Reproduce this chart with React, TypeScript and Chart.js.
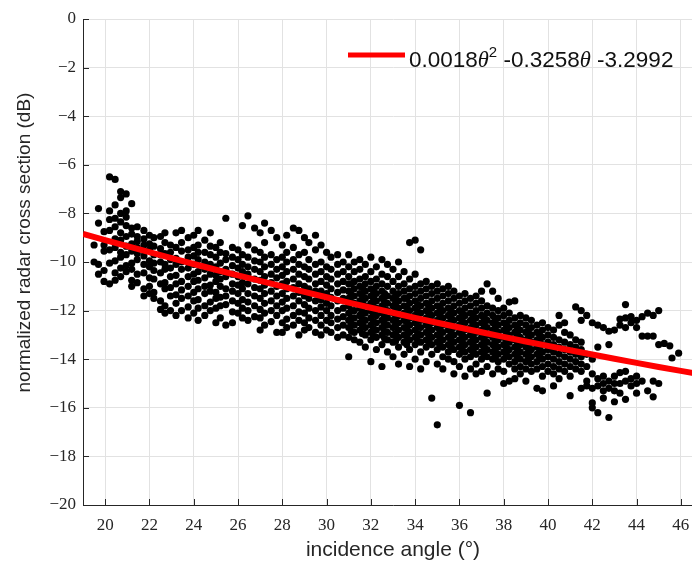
import { useEffect, useRef } from "react";
import { Chart, registerables } from "chart.js";

Chart.register(...registerables);

// Axis setup
const xTicks = [20, 22, 24, 26, 28, 30, 32, 34, 36, 38, 40, 42, 44, 46];
const yTicks = [0, -2, -4, -6, -8, -10, -12, -14, -16, -18, -20];
const xMin = 19;
const xMax = 47;
const yMin = -20;
const yMax = 0;

const xTitle = "incidence angle (°)";
const yTitle = "normalized radar cross section (dB)";

// Fitted curve
const fitAngle = [19, 21, 23, 25, 27, 29, 31, 33, 35, 37, 39, 41, 43, 45, 47];
const fitRcs = [-8.84, -9.35, -9.84, -10.32, -10.78, -11.23, -11.67, -12.09, -12.5, -12.89, -13.27, -13.63, -13.98, -14.32, -14.64];

// Legend text pieces: [text, style]
const legendParts: [string, string][] = [
  ["0.0018", "n"],
  ["θ", "i"],
  ["2", "s"],
  [" -0.3258", "n"],
  ["θ", "i"],
  [" -3.2992", "n"],
];

// Scatter measurements, columns: [angle, rcs values...]
const band19to22: number[][] = [
  [19.5, -9.3, -10.0],
  [19.7, -7.8, -8.4, -10.1, -10.5],
  [19.95, -8.75, -9.3, -9.55, -10.35, -10.8],
  [20.2, -6.5, -7.9, -8.25, -8.7, -9.5, -10.05, -10.9],
  [20.45, -6.6, -7.65, -8.2, -8.55, -9.05, -9.4, -9.95, -10.45, -10.75],
  [20.7, -7.1, -7.35, -8.0, -8.35, -8.8, -9.1, -9.6, -9.8, -10.25, -10.6],
  [20.95, -7.2, -7.9, -8.15, -8.5, -8.95, -9.35, -9.7, -10.15, -10.4],
  [21.2, -7.6, -8.6, -8.85, -9.25, -9.55, -10.05, -10.3, -10.75, -11.0],
  [21.45, -8.55, -8.95, -9.15, -9.4, -9.65, -9.9, -10.5, -10.85],
  [21.75, -8.7, -9.05, -9.3, -9.75, -10.1, -10.45, -11.1, -11.4],
];

const band22to25: number[][] = [
  [22.0, -8.9, -9.25, -9.5, -9.95, -10.2, -10.65, -11.0, -11.3],
  [22.2, -9.0, -9.35, -9.7, -10.05, -10.35, -10.7, -11.25, -11.5],
  [22.5, -8.95, -9.45, -9.7, -10.0, -10.45, -10.9, -11.6, -11.95],
  [22.7, -8.8, -9.2, -9.65, -10.1, -10.3, -10.85, -11.1, -11.8, -12.1],
  [22.95, -9.3, -9.6, -9.9, -10.25, -10.6, -11.05, -11.4, -12.0],
  [23.2, -8.8, -9.4, -9.85, -10.1, -10.55, -10.9, -11.35, -11.7, -12.2],
  [23.45, -8.7, -9.2, -9.55, -10.0, -10.3, -10.8, -11.15, -11.5, -12.0],
  [23.75, -9.0, -9.5, -9.8, -10.25, -10.6, -11.0, -11.4, -11.85, -12.3],
  [24.0, -8.9, -9.4, -9.75, -10.1, -10.5, -10.8, -11.25, -11.6, -12.1],
  [24.2, -8.7, -9.3, -9.6, -9.9, -10.4, -10.75, -11.1, -11.55, -11.9, -12.4],
  [24.5, -9.1, -9.6, -10.0, -10.3, -10.65, -11.0, -11.3, -11.8, -12.2],
  [24.75, -8.8, -9.35, -9.7, -10.1, -10.5, -10.95, -11.2, -11.65, -12.0],
];

const band25to28: number[][] = [
  [25.0, -9.4, -9.8, -10.2, -10.55, -10.8, -11.25, -11.5, -11.9, -12.5],
  [25.2, -9.2, -9.6, -10.05, -10.4, -10.7, -11.0, -11.45, -11.8, -12.3],
  [25.45, -8.2, -9.65, -9.9, -10.3, -10.6, -11.1, -11.4, -11.75, -12.6],
  [25.75, -9.4, -9.8, -10.15, -10.5, -10.9, -11.2, -11.6, -12.05, -12.5],
  [26.0, -9.5, -9.9, -10.25, -10.6, -10.95, -11.3, -11.7, -12.1],
  [26.2, -8.5, -9.7, -10.1, -10.4, -10.85, -11.1, -11.55, -11.9, -12.3],
  [26.45, -8.1, -9.3, -9.8, -10.2, -10.5, -10.9, -11.3, -11.65, -12.0, -12.4],
  [26.75, -8.6, -9.5, -9.95, -10.3, -10.7, -11.05, -11.4, -11.8, -12.25],
  [27.0, -8.8, -9.6, -10.0, -10.4, -10.75, -11.1, -11.5, -11.95, -12.3, -12.8],
  [27.2, -8.4, -9.2, -9.8, -10.2, -10.6, -10.95, -11.3, -11.7, -12.1, -12.6],
  [27.5, -8.7, -9.7, -10.1, -10.5, -10.85, -11.2, -11.6, -12.0, -12.45],
  [27.75, -9.0, -9.9, -10.3, -10.65, -11.0, -11.4, -11.8, -12.2, -12.9],
];

const band28to31: number[][] = [
  [28.0, -9.3, -9.8, -10.2, -10.55, -10.9, -11.3, -11.65, -12.0, -12.5, -12.9],
  [28.2, -8.9, -9.6, -10.0, -10.4, -10.8, -11.1, -11.5, -11.9, -12.35, -12.7],
  [28.5, -8.6, -9.4, -9.9, -10.3, -10.7, -11.05, -11.4, -11.8, -12.2, -12.6],
  [28.75, -8.7, -9.7, -10.1, -10.5, -10.9, -11.25, -11.6, -12.05, -12.4, -13.0],
  [29.0, -9.0, -9.6, -10.2, -10.6, -11.0, -11.4, -11.75, -12.1, -12.5, -12.8],
  [29.2, -9.2, -9.9, -10.3, -10.7, -11.1, -11.5, -11.9, -12.3, -12.7],
  [29.5, -8.9, -9.5, -10.1, -10.5, -10.9, -11.2, -11.6, -12.0, -12.4, -12.9],
  [29.75, -9.3, -10.0, -10.4, -10.8, -11.2, -11.55, -11.85, -12.2, -12.6, -13.0],
  [30.0, -9.6, -10.2, -10.6, -10.95, -11.3, -11.7, -12.0, -12.4, -12.8],
  [30.2, -9.8, -10.3, -10.7, -11.1, -11.45, -11.8, -12.2, -12.5, -12.9],
  [30.5, -9.7, -10.1, -10.5, -10.9, -11.25, -11.6, -12.0, -12.35, -12.7, -13.1],
  [30.75, -10.0, -10.4, -10.8, -11.15, -11.5, -11.9, -12.25, -12.6, -13.0],
];

const band31to34: number[][] = [
  [31.0, -9.7, -10.2, -10.6, -10.9, -11.2, -11.5, -11.8, -12.1, -12.4, -12.7, -13.1, -13.9],
  [31.12, -10.9, -11.35, -11.65, -12.0, -12.3, -12.55, -12.85],
  [31.25, -10.0, -10.4, -10.8, -11.1, -11.4, -11.7, -12.0, -12.3, -12.6, -12.9, -13.2],
  [31.5, -9.9, -10.3, -10.7, -11.0, -11.3, -11.6, -11.9, -12.2, -12.5, -12.8, -13.3],
  [31.62, -11.05, -11.4, -11.7, -12.05, -12.35, -12.6, -12.95],
  [31.75, -10.1, -10.6, -10.9, -11.2, -11.5, -11.8, -12.1, -12.4, -12.7, -13.0, -13.5],
  [32.0, -9.8, -10.4, -10.8, -11.1, -11.4, -11.7, -12.0, -12.3, -12.6, -12.9, -13.2, -14.1],
  [32.12, -11.2, -11.5, -11.85, -12.15, -12.45, -12.75, -13.05],
  [32.25, -10.2, -10.7, -11.0, -11.3, -11.6, -11.9, -12.2, -12.5, -12.8, -13.1, -13.6],
  [32.5, -9.9, -10.5, -10.9, -11.2, -11.5, -11.8, -12.1, -12.4, -12.7, -13.0, -13.4, -14.3],
  [32.62, -11.3, -11.65, -11.95, -12.25, -12.55, -12.85, -13.15],
  [32.75, -10.1, -10.6, -11.0, -11.4, -11.7, -12.0, -12.3, -12.6, -12.9, -13.2, -13.7],
  [33.0, -10.3, -10.8, -11.2, -11.5, -11.8, -12.1, -12.4, -12.7, -13.0, -13.3, -13.9],
  [33.12, -11.4, -11.7, -12.0, -12.3, -12.6, -12.95, -13.25],
  [33.25, -10.0, -10.6, -11.0, -11.3, -11.6, -11.9, -12.2, -12.5, -12.8, -13.1, -13.5, -14.2],
  [33.5, -10.4, -10.9, -11.2, -11.5, -11.8, -12.1, -12.4, -12.7, -13.0, -13.3, -13.8],
  [33.62, -11.5, -11.85, -12.15, -12.45, -12.75, -13.05, -13.4],
  [33.75, -9.2, -10.7, -11.1, -11.4, -11.7, -12.0, -12.3, -12.6, -12.9, -13.2, -13.6, -14.3],
];

const band34to37: number[][] = [
  [34.0, -9.1, -10.5, -11.0, -11.3, -11.6, -11.9, -12.2, -12.5, -12.8, -13.1, -13.4, -14.0],
  [34.12, -11.75, -12.05, -12.35, -12.65, -12.95, -13.25],
  [34.25, -9.5, -10.9, -11.2, -11.5, -11.8, -12.1, -12.4, -12.7, -13.0, -13.3, -13.7, -14.4],
  [34.5, -10.8, -11.1, -11.4, -11.7, -12.0, -12.3, -12.6, -12.9, -13.2, -13.5, -14.1],
  [34.62, -11.8, -12.1, -12.4, -12.7, -13.0, -13.3],
  [34.75, -11.0, -11.3, -11.6, -11.9, -12.2, -12.5, -12.8, -13.1, -13.4, -13.8, -15.6],
  [35.0, -10.9, -11.2, -11.5, -11.8, -12.1, -12.4, -12.7, -13.0, -13.3, -13.6, -14.2, -16.7],
  [35.12, -11.9, -12.2, -12.5, -12.8, -13.1, -13.4],
  [35.25, -11.1, -11.4, -11.7, -12.0, -12.3, -12.6, -12.9, -13.2, -13.5, -13.9, -14.4],
  [35.5, -11.0, -11.3, -11.6, -11.9, -12.2, -12.5, -12.8, -13.1, -13.4, -13.7, -14.0],
  [35.62, -12.0, -12.3, -12.6, -12.9, -13.2, -13.5],
  [35.75, -11.2, -11.5, -11.8, -12.1, -12.4, -12.7, -13.0, -13.3, -13.6, -14.1, -14.6],
  [36.0, -11.4, -11.7, -12.0, -12.3, -12.6, -12.9, -13.2, -13.5, -13.8, -14.3, -15.9],
  [36.12, -12.1, -12.4, -12.7, -13.0, -13.3, -13.6],
  [36.25, -11.3, -11.6, -11.9, -12.2, -12.5, -12.8, -13.1, -13.4, -13.7, -14.0, -14.7],
  [36.5, -11.5, -11.8, -12.1, -12.4, -12.7, -13.0, -13.3, -13.6, -13.9, -14.4, -16.2],
  [36.62, -12.2, -12.5, -12.8, -13.1, -13.4, -13.7],
  [36.75, -11.4, -11.7, -12.0, -12.3, -12.6, -12.9, -13.2, -13.5, -13.8, -14.2, -14.6],
];

const band37to40: number[][] = [
  [37.0, -11.2, -11.6, -11.9, -12.2, -12.5, -12.8, -13.1, -13.4, -13.7, -14.0, -14.5],
  [37.12, -12.3, -12.6, -12.9, -13.2, -13.5, -13.8],
  [37.25, -10.9, -11.8, -12.1, -12.4, -12.7, -13.0, -13.3, -13.6, -13.9, -14.3, -15.4],
  [37.5, -11.2, -11.9, -12.2, -12.5, -12.8, -13.1, -13.4, -13.7, -14.0, -14.6],
  [37.62, -12.4, -12.7, -13.0, -13.3, -13.6, -13.9],
  [37.75, -11.5, -12.0, -12.3, -12.6, -12.9, -13.2, -13.5, -13.8, -14.1, -14.4],
  [38.0, -11.9, -12.2, -12.5, -12.8, -13.1, -13.4, -13.7, -14.0, -14.5, -15.0],
  [38.12, -12.6, -12.9, -13.2, -13.5, -13.8],
  [38.25, -11.65, -12.1, -12.4, -12.7, -13.0, -13.3, -13.6, -13.9, -14.2, -14.9],
  [38.5, -11.6, -12.3, -12.6, -12.9, -13.2, -13.5, -13.8, -14.1, -14.4, -14.8],
  [38.62, -12.7, -13.0, -13.3, -13.6, -13.9],
  [38.75, -12.2, -12.5, -12.8, -13.1, -13.4, -13.7, -14.0, -14.3, -14.6],
  [39.0, -12.3, -12.6, -12.9, -13.2, -13.5, -13.8, -14.1, -14.4, -14.9],
  [39.12, -12.8, -13.1, -13.4, -13.7, -14.0],
  [39.25, -12.4, -12.7, -13.0, -13.3, -13.6, -13.9, -14.2, -14.5],
  [39.5, -12.6, -12.9, -13.2, -13.5, -13.8, -14.1, -14.4, -15.2],
  [39.62, -13.0, -13.3, -13.6, -13.9],
  [39.75, -12.5, -12.8, -13.1, -13.4, -13.7, -14.0, -14.3, -14.7, -15.3],
];

const band40to43: number[][] = [
  [40.0, -12.7, -13.0, -13.3, -13.6, -13.9, -14.2, -14.5],
  [40.25, -12.8, -13.1, -13.4, -13.7, -14.0, -14.3, -14.6, -15.1],
  [40.5, -12.2, -12.6, -13.2, -13.5, -13.8, -14.1, -14.4, -14.8],
  [40.75, -12.5, -12.9, -13.3, -13.6, -13.9, -14.2, -14.5],
  [41.0, -13.0, -13.4, -13.7, -14.0, -14.3, -14.7, -15.5],
  [41.25, -11.85, -13.2, -13.5, -13.8, -14.1, -14.4],
  [41.5, -12.0, -12.4, -13.3, -13.6, -13.9, -14.2, -14.5, -15.2],
  [41.75, -12.2, -13.8, -14.3, -14.9, -15.1],
  [42.0, -12.5, -14.0, -14.6, -15.2, -15.8, -16.0],
  [42.25, -12.6, -13.5, -14.8, -15.1, -16.2],
  [42.5, -12.7, -14.7, -15.0, -15.3, -15.6],
  [42.75, -12.85, -13.4, -14.9, -15.2, -16.4],
];

const band43to47: number[][] = [
  [43.0, -12.8, -14.7, -15.0, -15.3, -15.75],
  [43.25, -12.35, -12.6, -14.55, -15.0, -15.4],
  [43.5, -11.75, -12.3, -12.7, -14.5, -14.9, -15.65],
  [43.75, -12.25, -12.5, -14.8, -15.1],
  [44.0, -12.4, -12.7, -14.7, -15.0, -15.4],
  [44.25, -12.25, -13.05, -14.9],
  [44.5, -12.1, -13.05, -15.3],
  [44.75, -12.2, -13.05, -14.9, -15.55],
  [45.0, -12.0, -13.4, -15.0],
  [45.25, -13.35],
  [45.5, -13.45],
  [45.6, -13.95],
  [45.9, -13.75],
];

const allBands = [band19to22, band22to25, band25to28, band28to31, band31to34, band34to37, band37to40, band40to43, band43to47];

const TEXT = "#262626";
const GRID = "#e2e2e2";

const innerTicks = {
  id: "innerTicks",
  beforeDatasetsDraw(chart: any) {
    const { ctx, chartArea, scales } = chart;
    const xs = scales.x;
    const ys = scales.y;
    ctx.save();
    ctx.strokeStyle = TEXT;
    ctx.lineWidth = 1;
    ctx.beginPath();
    for (const v of xTicks) {
      const px = Math.round(xs.getPixelForValue(v)) + 0.5;
      ctx.moveTo(px, chartArea.bottom);
      ctx.lineTo(px, chartArea.bottom - 6);
    }
    for (const v of yTicks) {
      const py = Math.round(ys.getPixelForValue(v)) + 0.5;
      ctx.moveTo(chartArea.left, py);
      ctx.lineTo(chartArea.left + 6, py);
    }
    ctx.stroke();
    ctx.restore();
  },
};

const yTitlePlugin = {
  id: "yTitlePlugin",
  afterDraw(chart: any) {
    const { ctx, scales } = chart;
    const cy = scales.y.getPixelForValue(-9.2);
    ctx.save();
    ctx.translate(25, cy);
    ctx.rotate(-Math.PI / 2);
    ctx.fillStyle = TEXT;
    ctx.font = '19px "Liberation Sans"';
    ctx.textAlign = "center";
    ctx.textBaseline = "middle";
    ctx.fillText(yTitle, 0, 0);
    ctx.restore();
  },
};

const fitLegend = {
  id: "fitLegend",
  afterDraw(chart: any) {
    const { ctx, chartArea } = chart;
    const x0 = chartArea.left + 265;
    const y0 = chartArea.top + 36;
    ctx.save();
    ctx.strokeStyle = "#ff0000";
    ctx.lineWidth = 5;
    ctx.beginPath();
    ctx.moveTo(x0, y0);
    ctx.lineTo(x0 + 57, y0);
    ctx.stroke();
    ctx.fillStyle = "#111111";
    ctx.textBaseline = "alphabetic";
    let tx = x0 + 61;
    const base = y0 + 12;
    for (const [t, s] of legendParts) {
      let dy = 0;
      if (s === "n") ctx.font = '22.5px "Liberation Sans"';
      else if (s === "i") ctx.font = 'italic 22.5px "Liberation Serif"';
      else {
        ctx.font = '15px "Liberation Sans"';
        dy = -10;
      }
      ctx.fillText(t, tx, base + dy);
      tx += ctx.measureText(t).width;
    }
    ctx.restore();
  },
};

export default function App() {
  const ref = useRef<HTMLCanvasElement | null>(null);

  useEffect(() => {
    if (!ref.current) return;
    const points: { x: number; y: number }[] = [];
    for (const band of allBands) {
      for (const col of band) {
        for (let i = 1; i < col.length; i++) points.push({ x: col[0], y: col[i] });
      }
    }
    const fit = fitAngle.map((a, i) => ({ x: a, y: fitRcs[i] }));

    const chart = new Chart(ref.current, {
      type: "scatter",
      data: {
        datasets: [
          {
            type: "line",
            data: fit,
            borderColor: "#ff0000",
            borderWidth: 6,
            pointRadius: 0,
            tension: 0.4,
            order: 0,
          } as any,
          {
            type: "scatter",
            data: points,
            backgroundColor: "#000000",
            pointRadius: 3.6,
            pointBorderWidth: 0,
            order: 1,
          },
        ],
      },
      options: {
        responsive: false,
        animation: false,
        events: [],
        layout: { padding: { top: 19, left: 0, right: 17, bottom: 0 } },
        plugins: { legend: { display: false }, tooltip: { enabled: false } },
        scales: {
          x: {
            type: "linear",
            min: xMin,
            max: xMax,
            afterBuildTicks: (s: any) => {
              s.ticks = xTicks.map((v) => ({ value: v }));
            },
            afterFit: (s: any) => {
              s.height = 59;
            },
            grid: { color: GRID, drawTicks: false, lineWidth: 1 },
            border: { display: true, color: TEXT, width: 1 },
            ticks: {
              color: TEXT,
              padding: 10,
              maxRotation: 0,
              autoSkip: false,
              font: { family: '"Liberation Serif"', size: 17 },
              callback: (v: any) => String(v),
            },
            title: {
              display: true,
              text: xTitle,
              color: TEXT,
              font: { family: '"Liberation Sans"', size: 21 },
              padding: { top: 0, bottom: 1 },
            },
          },
          y: {
            type: "linear",
            min: yMin,
            max: yMax,
            afterBuildTicks: (s: any) => {
              s.ticks = yTicks.map((v) => ({ value: v }));
            },
            afterFit: (s: any) => {
              s.width = 83;
            },
            grid: { color: GRID, drawTicks: false, lineWidth: 1 },
            border: { display: true, color: TEXT, width: 1 },
            ticks: {
              color: TEXT,
              padding: 7,
              autoSkip: false,
              font: { family: '"Liberation Serif"', size: 17 },
              callback: (v: any) => (v === 0 ? "0" : "\u2212" + Math.abs(v)),
            },
            title: { display: false },
          },
        },
      },
      plugins: [innerTicks, yTitlePlugin, fitLegend],
    });
    return () => chart.destroy();
  }, []);

  return (
    <div
      style={{
        position: "fixed",
        left: 0,
        top: 0,
        width: 692,
        height: 564,
        overflow: "hidden",
        background: "#ffffff",
      }}
    >
      <canvas ref={ref} width={720} height={564} style={{ display: "block" }} />
    </div>
  );
}
